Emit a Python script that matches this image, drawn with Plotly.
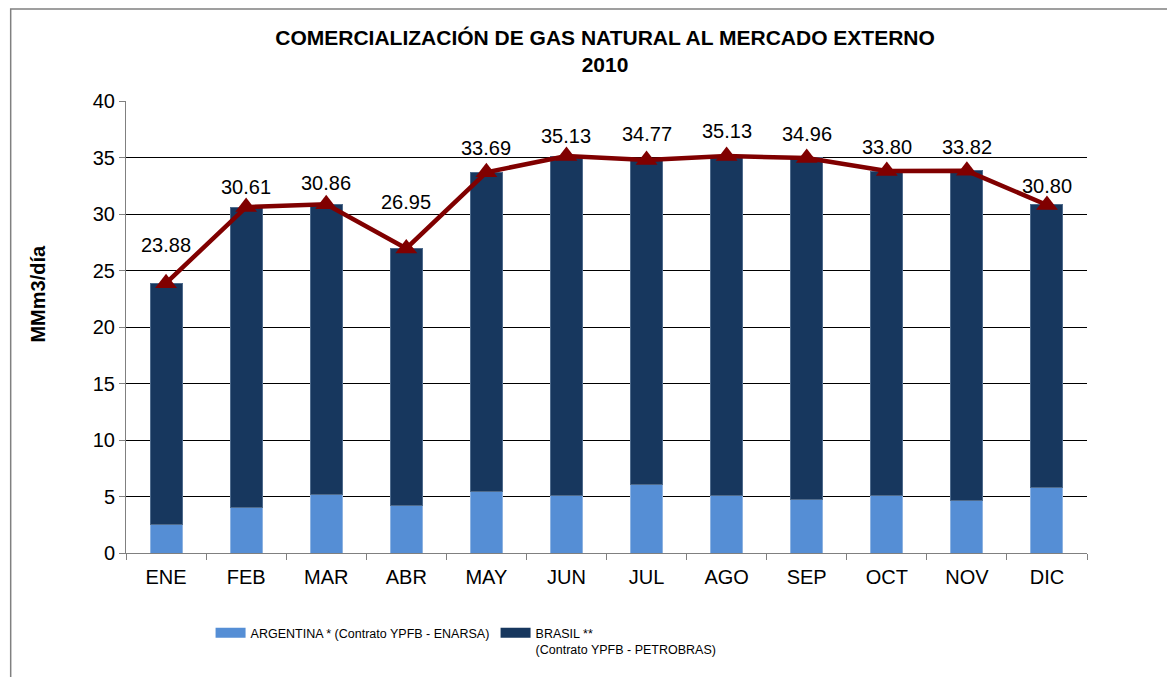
import plotly.graph_objects as go

months = ["ENE", "FEB", "MAR", "ABR", "MAY", "JUN", "JUL", "AGO", "SEP", "OCT", "NOV", "DIC"]
total = [23.88, 30.61, 30.86, 26.95, 33.69, 35.13, 34.77, 35.13, 34.96, 33.80, 33.82, 30.80]
argentina = [2.54, 4.02, 5.19, 4.22, 5.46, 5.11, 6.05, 5.08, 4.75, 5.08, 4.64, 5.81]
brasil = [round(t - a, 2) for t, a in zip(total, argentina)]
total_labels = [f"{v:.2f}" for v in total]
series_names = ["ARGENTINA * (Contrato YPFB - ENARSA)", "BRASIL **<br>(Contrato YPFB - PETROBRAS)"]

# label offsets (pixels above marker) - style only
label_shift = [38, 20, 21, 46, 24, 20, 26, 25, 24, 24, 24, 19]

FONT = "Liberation Sans, Arial, sans-serif"
C_ARG = "#558ED5"
C_BRA = "#17375E"

fig = go.Figure()
fig.add_trace(go.Bar(
    x=months, y=argentina, name=series_names[0], showlegend=False,
    marker=dict(color=C_ARG, line=dict(color="#8DB3E2", width=1)),
))
fig.add_trace(go.Bar(
    x=months, y=brasil, name=series_names[1], showlegend=False,
    marker=dict(color=C_BRA, line=dict(color="#4F6B8C", width=1)),
))
fig.add_trace(go.Scatter(
    x=months, y=total, mode="lines+markers", showlegend=False,
    line=dict(color="#800000", width=4.5),
    marker=dict(symbol="triangle-up", size=19, color="#800000"),
))
# legend entries (wide rectangular swatches)
for nm, c in zip(series_names, [C_ARG, C_BRA]):
    fig.add_trace(go.Scatter(x=[None], y=[None], mode="lines", name=nm,
                             line=dict(color=c, width=12)))

for m, t, lab, s in zip(months, total, total_labels, label_shift):
    fig.add_annotation(x=m, y=t, text=lab, showarrow=False, yshift=s,
                       font=dict(size=20, color="black", family=FONT))

# y-axis title
fig.add_annotation(xref="paper", yref="paper", x=-0.092, y=0.573,
                   xanchor="center", yanchor="middle",
                   text="<b>MMm3/día</b>", textangle=-90, showarrow=False,
                   font=dict(size=20, color="black", family=FONT))

fig.update_layout(
    width=1167, height=669,
    paper_bgcolor="white", plot_bgcolor="white",
    barmode="stack", bargap=0.6,
    font=dict(family=FONT, size=20, color="black"),
    margin=dict(l=118, r=88, t=93, b=124, autoexpand=False),
    title=dict(
        text="<b>COMERCIALIZACIÓN DE GAS NATURAL AL MERCADO EXTERNO<br>2010</b>",
        x=0.5116, xanchor="center", y=0.945, yanchor="top",
        font=dict(size=21, family=FONT, color="black"),
    ),
    xaxis=dict(
        range=[-0.5, 11.5],
        showline=True, linecolor="#808080", linewidth=1,
        ticks="outside", tickson="boundaries", ticklen=6, tickcolor="#808080",
        tickfont=dict(size=20), showgrid=False, automargin=False,
        ticklabelstandoff=6,
    ),
    yaxis=dict(
        range=[0, 40], dtick=5, showgrid=True, gridcolor="black", gridwidth=1,
        showline=True, linecolor="#808080", linewidth=1,
        ticks="outside", ticklen=6, tickcolor="#808080",
        tickfont=dict(size=20), zeroline=False, automargin=False,
    ),
    legend=dict(
        orientation="h", x=0.088, xanchor="left", y=-0.144, yanchor="top",
        font=dict(size=12.5, family=FONT), entrywidth=240, entrywidthmode="pixels",
        traceorder="normal", valign="top",
    ),
)

# outer chart frame
fig.add_shape(type="rect", xref="paper", yref="paper",
              x0=-0.12, x1=1.12, y0=-0.3, y1=1.2035,
              line=dict(color="#808080", width=1.5), layer="below")

fig.write_html("out.html")
